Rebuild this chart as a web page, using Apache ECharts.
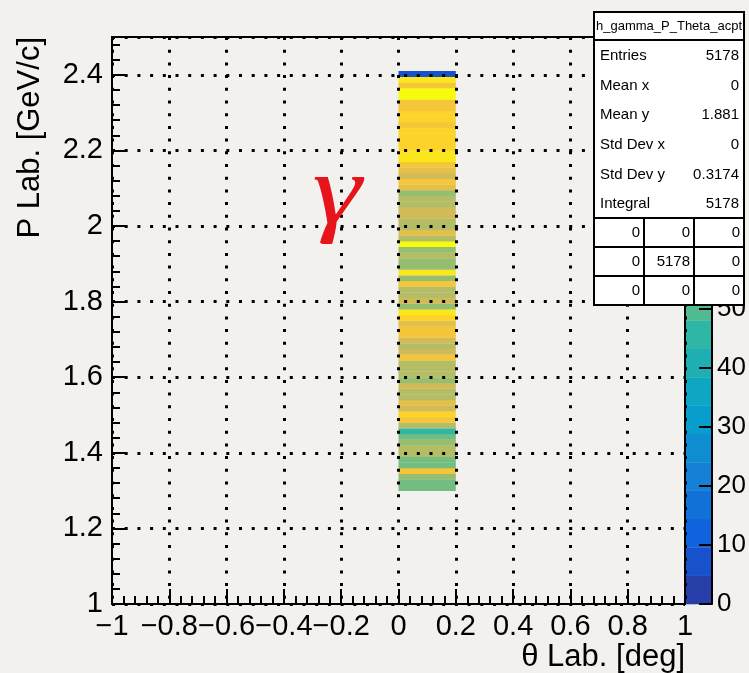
<!DOCTYPE html>
<html>
<head>
<meta charset="utf-8">
<script src="https://cdn.jsdelivr.net/npm/echarts@6/dist/echarts.min.js"></script>
<style>
  html, body { margin: 0; padding: 0; background: #f3f1ed; }
  #chart { width: 749px; height: 673px; }
</style>
</head>
<body>
<div id="chart"></div>
<script>
// theta bin (deg) holding every entry
const thetaBin = [0, 0.2];
// momentum binning: first filled bin low edge and bin width (GeV/c)
const pStart = 1.3;
const pWidth = 0.015;
// entries per momentum bin, from 1.300 GeV/c upwards
const counts = [
  54, 54, 59, 78, 54, 54, 64, 64, 59, 54,
  45, 64, 78, 83, 69, 73, 64, 64, 69, 59,
  64, 64, 64, 78, 69, 64, 69, 78, 78, 73,
  83, 88, 59, 69, 64, 64, 78, 59, 88, 59,
  59, 64, 59, 93, 64, 73, 64, 64, 69, 69,
  64, 64, 59, 73, 78, 69, 73, 78, 88, 88,
  83, 83, 83, 83, 78, 83, 83, 78, 78, 93,
  96, 78, 88, 6
];
// colour scale
const zMax = 96;
const nLevels = 20;
// statistics box
const histName = 'h_gamma_P_Theta_acpt';
const statLabels = ['Entries', 'Mean x', 'Mean y', 'Std Dev x', 'Std Dev y', 'Integral'];
const statValues = ['5178', '0', '1.881', '0', '0.3174', '5178'];
const overflowTable = [
  ['0', '0', '0'],
  ['0', '5178', '0'],
  ['0', '0', '0']
];

// kBird palette stops
const birdStops = [0.0, 0.125, 0.25, 0.375, 0.5, 0.625, 0.75, 0.875, 1.0];
const birdR = [0.2082, 0.0592, 0.0780, 0.0232, 0.1802, 0.5301, 0.8186, 0.9956, 0.9764];
const birdG = [0.1664, 0.3599, 0.5041, 0.6419, 0.7178, 0.7492, 0.7328, 0.7862, 0.9832];
const birdB = [0.5293, 0.8684, 0.8385, 0.7914, 0.6425, 0.4662, 0.3499, 0.1968, 0.0539];

function birdColor(t) {
  let k = 0;
  while (k < birdStops.length - 2 && t > birdStops[k + 1]) k++;
  const f = (t - birdStops[k]) / (birdStops[k + 1] - birdStops[k]);
  const c = (a) => Math.round(255 * (a[k] + (a[k + 1] - a[k]) * f));
  return 'rgb(' + c(birdR) + ',' + c(birdG) + ',' + c(birdB) + ')';
}
function levelColor(level) {
  const idx = Math.floor((level + 0.99) * 255 / nLevels);
  return birdColor(idx / 254);
}
function valueColor(v) {
  let level = Math.floor(v / zMax * nLevels);
  if (level >= nLevels) level = nLevels - 1;
  if (level < 0) level = 0;
  return levelColor(level);
}

const cells = counts.map((c, i) => [
  thetaBin[0], thetaBin[1], pStart + i * pWidth, pStart + (i + 1) * pWidth, c
]);
const levels = [];
for (let i = 0; i < nLevels; i++) levels.push([i * zMax / nLevels, (i + 1) * zMax / nLevels, i]);

const FONT = '"Liberation Sans", Arial, Helvetica, sans-serif';
const minusFmt = (v) => {
  const r = parseFloat(Number(v).toFixed(2));
  return r < 0 ? '\u2212' + Math.abs(r) : String(r);
};

// statistics box graphics, drawn above the palette
const boxX = 594, boxW = 150, BOXZ = 100;
const statsGraphics = [];
statsGraphics.push({ type: 'rect', z: BOXZ, shape: { x: boxX, y: 12, width: boxW, height: 28 },
  style: { fill: '#fff', stroke: '#000', lineWidth: 2 } });
statsGraphics.push({ type: 'text', z: BOXZ + 1, x: boxX + boxW / 2, y: 26,
  style: { text: histName, font: '13px ' + FONT, fill: '#000', align: 'center', verticalAlign: 'middle' } });
statsGraphics.push({ type: 'rect', z: BOXZ, shape: { x: boxX, y: 40, width: boxW, height: 178 },
  style: { fill: '#fff', stroke: '#000', lineWidth: 2 } });
statLabels.forEach((lab, i) => {
  const y = 56 + i * 29.6;
  statsGraphics.push({ type: 'text', z: BOXZ + 1, x: boxX + 6, y: y,
    style: { text: lab, font: '15px ' + FONT, fill: '#000', align: 'left', verticalAlign: 'middle' } });
  statsGraphics.push({ type: 'text', z: BOXZ + 1, x: boxX + boxW - 5, y: y,
    style: { text: statValues[i], font: '15px ' + FONT, fill: '#000', align: 'right', verticalAlign: 'middle' } });
});
overflowTable.forEach((row, r) => {
  row.forEach((val, c) => {
    const x = boxX + c * 50, y = 218 + r * 29;
    statsGraphics.push({ type: 'rect', z: BOXZ, shape: { x: x, y: y, width: 50, height: 29 },
      style: { fill: '#fff', stroke: '#000', lineWidth: 2 } });
    statsGraphics.push({ type: 'text', z: BOXZ + 1, x: x + 46, y: y + 15,
      style: { text: val, font: '15px ' + FONT, fill: '#000', align: 'right', verticalAlign: 'middle' } });
  });
});

const chart = echarts.init(document.getElementById('chart'), null, { renderer: 'canvas' });
chart.setOption({
  backgroundColor: '#f3f1ed',
  animation: false,
  grid: [
    { left: 112, right: 64, top: 37, bottom: 69, show: true, borderColor: '#000', borderWidth: 2, backgroundColor: 'transparent' },
    { left: 686, width: 32, top: 37, bottom: 69 }
  ],
  xAxis: [
    {
      gridIndex: 0, type: 'value', min: -1, max: 1, interval: 0.2, z: 5,
      axisLine: { show: true, onZero: false, lineStyle: { color: '#000', width: 2 } },
      axisTick: { show: true, inside: true, length: 15, lineStyle: { color: '#000', width: 2 } },
      minorTick: { show: true, splitNumber: 5, length: 8, lineStyle: { color: '#000', width: 2 } },
      splitLine: { show: true, lineStyle: { color: '#000', width: 3, type: [3, 9.7] } },
      axisLabel: { color: '#000', fontSize: 29, fontFamily: FONT, margin: 8, formatter: minusFmt, showMinLabel: true, showMaxLabel: true }
    },
    { gridIndex: 1, type: 'value', min: 0, max: 1, show: false }
  ],
  yAxis: [
    {
      gridIndex: 0, type: 'value', min: 1, max: 2.5, interval: 0.2, z: 5,
      axisLine: { show: true, onZero: false, lineStyle: { color: '#000', width: 2 } },
      axisTick: { show: true, inside: true, length: 15, lineStyle: { color: '#000', width: 2 } },
      minorTick: { show: true, splitNumber: 5, length: 8, lineStyle: { color: '#000', width: 2 } },
      splitLine: { show: true, lineStyle: { color: '#000', width: 3, type: [3, 9.7] } },
      axisLabel: { color: '#000', fontSize: 29, fontFamily: FONT, margin: 9, formatter: minusFmt, showMaxLabel: false }
    },
    {
      gridIndex: 1, type: 'value', min: 0, max: zMax, interval: 10, position: 'right', z: 5,
      axisLine: { show: true, onZero: false, lineStyle: { color: '#000', width: 2 } },
      axisTick: { show: true, inside: true, length: 13, lineStyle: { color: '#000', width: 2 } },
      splitLine: { show: false },
      axisLabel: { color: '#000', fontSize: 26, fontFamily: FONT, margin: 5, showMaxLabel: false }
    }
  ],
  series: [
    {
      type: 'custom', xAxisIndex: 0, yAxisIndex: 0, z: 1,
      data: cells,
      encode: { x: [0, 1], y: [2, 3] },
      renderItem: (params, api) => {
        const p0 = api.coord([api.value(0), api.value(2)]);
        const p1 = api.coord([api.value(1), api.value(3)]);
        return {
          type: 'rect',
          shape: { x: p0[0], y: p1[1], width: p1[0] - p0[0], height: p0[1] - p1[1] + 0.3 },
          style: { fill: valueColor(api.value(4)) }
        };
      }
    },
    {
      type: 'custom', xAxisIndex: 1, yAxisIndex: 1, z: 1,
      data: levels,
      encode: { y: [0, 1] },
      renderItem: (params, api) => {
        const p0 = api.coord([0, api.value(0)]);
        const p1 = api.coord([1, api.value(1)]);
        return {
          type: 'rect',
          shape: { x: p0[0], y: p1[1], width: p1[0] - p0[0], height: p0[1] - p1[1] + 0.3 },
          style: { fill: levelColor(api.value(2)) }
        };
      }
    }
  ],
  graphic: [
    { type: 'text', x: 685, y: 657, z: 10,
      style: { text: '\u03b8 Lab. [deg]', font: '31px ' + FONT, fill: '#000', align: 'right', verticalAlign: 'middle' } },
    { type: 'text', x: 30, y: 37, rotation: Math.PI / 2, z: 10,
      style: { text: 'P Lab. [GeV/c]', font: '31px ' + FONT, fill: '#000', align: 'right', verticalAlign: 'middle' } },
    { type: 'text', x: 337, y: 197, z: 10, scaleX: 1.25,
      style: { text: '\u03b3', font: 'italic 100px "Liberation Serif", "Times New Roman", serif', fill: '#e8141b', align: 'center', verticalAlign: 'middle' } }
  ].concat(statsGraphics)
});
</script>
</body>
</html>
